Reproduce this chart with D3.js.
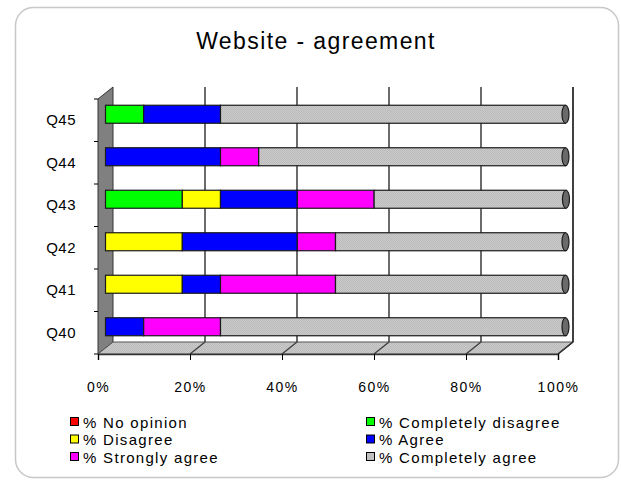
<!DOCTYPE html>
<html>
<head>
<meta charset="utf-8">
<script src="https://cdn.jsdelivr.net/npm/d3@7"></script>
<style>
  html, body { margin: 0; padding: 0; background: #fff; }
  svg { display: block; }
  text { font-family: "Liberation Sans", Arial, sans-serif; fill: #000; }
</style>
</head>
<body>
<svg id="chart" width="621" height="480"></svg>
<script>
// Survey questions (bottom to top as drawn)
const categories = ["Q40", "Q41", "Q42", "Q43", "Q44", "Q45"];

// Answer shares per question, in percent
const noOpinion          = [0, 0, 0, 0, 0, 0];
const completelyDisagree = [0, 0, 0, 16.7, 0, 8.3];
const disagree           = [0, 16.7, 16.7, 8.3, 0, 0];
const agree              = [8.3, 8.3, 25, 16.7, 25, 16.7];
const stronglyAgree      = [16.7, 25, 8.3, 16.7, 8.3, 0];
const completelyAgree    = [75, 50, 50, 41.7, 66.7, 75];

const seriesNames = ["% No opinion", "% Completely disagree", "% Disagree",
                     "% Agree", "% Strongly agree", "% Completely agree"];
const seriesColors = ["#ff0000", "#00ff00", "#ffff00", "#0000ff", "#ff00ff", "#c0c0c0"];
const xTicks = [0, 20, 40, 60, 80, 100];

const seriesValues = [noOpinion, completelyDisagree, disagree, agree, stronglyAgree, completelyAgree];
const rows = categories.map((c, i) => {
  const r = { category: c };
  seriesNames.forEach((s, k) => { r[s] = seriesValues[k][i]; });
  return r;
});

const svg = d3.select("#chart");

// Fine dither used for the light grey surfaces
const defs = svg.append("defs");
const dither = defs.append("pattern").attr("id", "dither")
  .attr("width", 2).attr("height", 2).attr("patternUnits", "userSpaceOnUse");
dither.append("rect").attr("width", 2).attr("height", 2).attr("fill", "#cbcbcb");
dither.append("rect").attr("width", 1).attr("height", 1).attr("fill", "#bababa");
dither.append("rect").attr("x", 1).attr("y", 1).attr("width", 1).attr("height", 1).attr("fill", "#bababa");

// Outer frame
svg.append("rect")
  .attr("x", 15.5).attr("y", 7.5).attr("width", 603).attr("height", 470)
  .attr("rx", 18).attr("ry", 18)
  .attr("fill", "#fff").attr("stroke", "#c8c8c8").attr("stroke-width", 1.5);

// Title
svg.append("text")
  .attr("x", 316).attr("y", 49)
  .attr("text-anchor", "middle")
  .style("font-size", "23px")
  .style("letter-spacing", "1.4px")
  .text("Website - agreement");

// Front plane scales + 3D depth offset
const x = d3.scaleLinear().domain([0, 100]).range([98, 558]);
const y = d3.scaleBand().domain(categories.slice().reverse()).range([99, 354]);
const dx = 15, dy = -12;
const yTop = y.range()[0], yBot = y.range()[1];

const plot = svg.append("g");

// Left wall
plot.append("path")
  .attr("d", `M${x(0)},${yTop} L${x(0) + dx},${yTop + dy} L${x(0) + dx},${yBot + dy} L${x(0)},${yBot} Z`)
  .attr("fill", "#808080").attr("stroke", "#333").attr("stroke-width", 1);

// Floor
plot.append("path")
  .attr("d", `M${x(0)},${yBot} L${x(0) + dx},${yBot + dy} L${x(100) + dx},${yBot + dy} L${x(100)},${yBot} Z`)
  .attr("fill", "url(#dither)").attr("stroke", "#555").attr("stroke-width", 1);

// Back-wall gridlines and their floor diagonals
xTicks.slice(1).forEach(t => {
  plot.append("line")
    .attr("x1", x(t) + dx).attr("x2", x(t) + dx)
    .attr("y1", yTop + dy).attr("y2", yBot + dy)
    .attr("stroke", "#3a3a3a").attr("stroke-width", 1.5);
  plot.append("line")
    .attr("x1", x(t)).attr("y1", yBot)
    .attr("x2", x(t) + dx).attr("y2", yBot + dy)
    .attr("stroke", "#3a3a3a").attr("stroke-width", 1.2);
});

// Bars: stacked cylinders lying at mid-depth
const stack = d3.stack().keys(seriesNames);
const layers = stack(rows);
const barH = 18;
const cx = v => x(v) + dx / 2;
const cy = c => y(c) + y.bandwidth() / 2 + dy / 2;

const barG = plot.append("g");
layers.forEach((layer, k) => {
  barG.selectAll(null)
    .data(layer.filter(d => d[1] - d[0] > 0))
    .enter().append("rect")
    .attr("x", d => cx(d[0]))
    .attr("y", d => cy(d.data.category) - barH / 2)
    .attr("width", d => cx(d[1]) - cx(d[0]))
    .attr("height", barH)
    .attr("fill", k === 5 ? "url(#dither)" : seriesColors[k])
    .attr("stroke", "#1a1a1a").attr("stroke-width", 1.2);
});

// Cylinder end caps
barG.selectAll(null)
  .data(rows)
  .enter().append("ellipse")
  .attr("cx", d => cx(d3.sum(seriesNames, s => d[s])))
  .attr("cy", d => cy(d.category))
  .attr("rx", 3.5).attr("ry", barH / 2)
  .attr("fill", "#6a6a6a").attr("stroke", "#1a1a1a").attr("stroke-width", 1.2);

// Right wall edge
plot.append("path")
  .attr("d", `M${x(100) + dx},${yTop + dy} L${x(100) + dx},${yBot + dy} L${x(100)},${yBot}`)
  .attr("fill", "none").attr("stroke", "#333").attr("stroke-width", 1.5);

// Front floor edge + x axis ticks and labels
const xAxis = d3.axisBottom(x).tickValues(xTicks).tickSize(6).tickPadding(22)
  .tickFormat(d => d + "%");
const gx = svg.append("g").attr("transform", `translate(0,${yBot})`).call(xAxis);
gx.select(".domain").attr("stroke", "#333").attr("stroke-width", 1.5);
gx.selectAll(".tick line").attr("stroke", "#000");
gx.selectAll(".tick text").style("font-size", "14px").style("letter-spacing", "1.5px")
  .attr("font-family", null);

// Y axis: category labels, ticks at band boundaries
const yAxis = d3.axisLeft(y).tickSize(0).tickPadding(22);
const gy = svg.append("g").attr("transform", `translate(${x(0)},0)`).call(yAxis);
gy.select(".domain").remove();
gy.selectAll(".tick text").style("font-size", "15px").style("letter-spacing", "0.5px")
  .attr("font-family", null);
const bounds = categories.map(c => y(c)).concat([yBot]);
svg.append("g").selectAll("line").data(bounds).enter().append("line")
  .attr("x1", x(0) - 4).attr("x2", x(0))
  .attr("y1", d => d).attr("y2", d => d)
  .attr("stroke", "#000").attr("stroke-width", 1);

// Legend (two columns, three rows)
const legend = svg.append("g");
seriesNames.forEach((s, i) => {
  const col = i % 2, row = Math.floor(i / 2);
  const lx = col === 0 ? 70 : 366;
  const ly = 422 + row * 17.5;
  const g = legend.append("g").attr("transform", `translate(${lx},${ly})`);
  g.append("rect").attr("x", 0.5).attr("y", -4.5).attr("width", 8).attr("height", 8)
    .attr("fill", seriesColors[i]).attr("stroke", "#000").attr("stroke-width", 1);
  g.append("text").attr("x", 13).attr("y", 5.5)
    .style("font-size", "15px").style("letter-spacing", "1.3px")
    .text(s);
});
</script>
</body>
</html>
